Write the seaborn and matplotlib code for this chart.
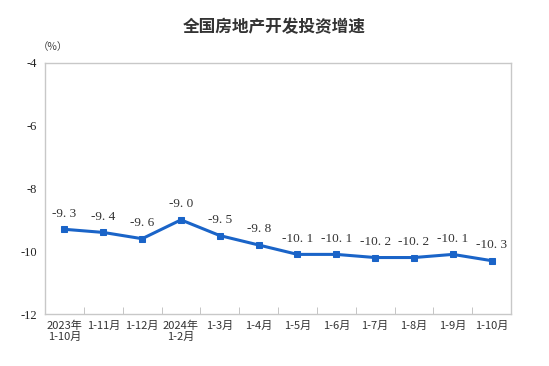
import matplotlib
matplotlib.use("Agg")
import matplotlib.pyplot as plt
import seaborn as sns
import pandas as pd
from matplotlib.ticker import FixedLocator

categories = ["2023年\n1-10月", "1-11月", "1-12月", "2024年\n1-2月", "1-3月", "1-4月",
              "1-5月", "1-6月", "1-7月", "1-8月", "1-9月", "1-10月"]
growth = [-9.3, -9.4, -9.6, -9.0, -9.5, -9.8, -10.1, -10.1, -10.2, -10.2, -10.1, -10.3]
y_ticks = [-4, -6, -8, -10, -12]

sns.set_style("white")
plt.rcParams["font.family"] = ["Noto Sans CJK SC", "DejaVu Sans"]

df = pd.DataFrame({"period": categories, "value": growth})

fig = plt.figure(figsize=(5.49, 3.66), dpi=100)
ax = fig.add_axes([0.082, 0.142, 0.849, 0.686])

color = "#1a64c8"
sns.lineplot(data=df, x="period", y="value", ax=ax, color=color, linewidth=2.2,
             marker="s", markersize=4.5, markeredgecolor=color, sort=False)

for i, v in enumerate(growth):
    txt = f"{v:.1f}".replace(".", ". ")
    ax.annotate(txt, (i, v), xytext=(0, 7), textcoords="offset points",
                ha="center", va="bottom", fontsize=9.5, color="#333333",
                family=["Liberation Serif", "DejaVu Sans"])

ax.set_ylim(-12, -4)
ax.set_yticks(y_ticks)
ax.set_yticklabels([str(t) for t in y_ticks], family="Liberation Serif", fontsize=9, color="#222222")
ax.set_xlim(-0.5, len(categories) - 0.5)
ax.set_xticks(range(len(categories)))
ax.set_xticklabels(categories, fontsize=8, color="#333333", linespacing=1.1,
                   family=["Noto Sans CJK SC", "DejaVu Sans"])
ax.tick_params(axis="x", which="major", length=0, pad=5)
ax.tick_params(axis="y", length=0, pad=6)
ax.xaxis.set_minor_locator(FixedLocator([i + 0.5 for i in range(len(categories) - 1)]))
ax.tick_params(axis="x", which="minor", direction="in", length=5, color="#bbbbbb", bottom=True)
ax.set_xlabel("")
ax.set_ylabel("")

for s in ax.spines.values():
    s.set_color("#c8c8c8")
    s.set_linewidth(1)

fig.text(0.5, 0.925, "全国房地产开发投资增速", ha="center", va="center",
         fontsize=12, fontweight="bold", color="#333333")
fig.text(0.068, 0.872, "（%）", ha="left", va="center", fontsize=7.5, color="#444444")

fig.savefig("out.png", dpi=100)
